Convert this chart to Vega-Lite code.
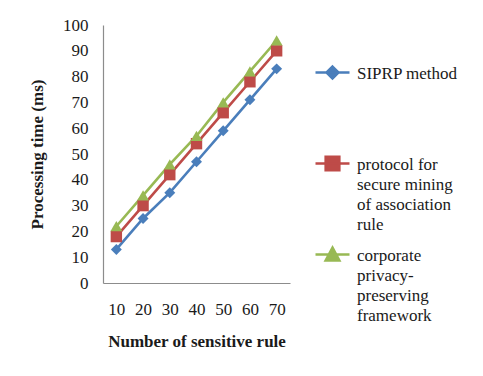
{
  "$schema": "https://vega.github.io/schema/vega-lite/v6.json",
  "width": 187,
  "height": 258,
  "autosize": {"type": "none"},
  "padding": {"left": 103, "top": 25, "right": 193, "bottom": 93},
  "background": "white",
  "config": {
    "font": "Liberation Serif",
    "view": {"stroke": null},
    "style": {"guide-label": {"font": "Liberation Serif"}},
    "axis": {
      "domainColor": "#8c8c8c",
      "domainWidth": 1.2,
      "ticks": false,
      "grid": false,
      "labelFont": "Liberation Serif",
      "labelFontSize": 17,
      "labelColor": "#1a1a1a",
      "titleFont": "Liberation Serif",
      "titleFontSize": 17,
      "titleFontWeight": "bold",
      "titleColor": "#1a1a1a"
    },
    "legend": {"labelFont": "Liberation Serif"}
  },
  "data": {
    "values": [
      {"rules": 10, "time": 13, "series": "SIPRP method"},
      {"rules": 20, "time": 25, "series": "SIPRP method"},
      {"rules": 30, "time": 35, "series": "SIPRP method"},
      {"rules": 40, "time": 47, "series": "SIPRP method"},
      {"rules": 50, "time": 59, "series": "SIPRP method"},
      {"rules": 60, "time": 71, "series": "SIPRP method"},
      {"rules": 70, "time": 83, "series": "SIPRP method"},
      {"rules": 10, "time": 18, "series": "protocol for secure mining of association rule"},
      {"rules": 20, "time": 30, "series": "protocol for secure mining of association rule"},
      {"rules": 30, "time": 42, "series": "protocol for secure mining of association rule"},
      {"rules": 40, "time": 54, "series": "protocol for secure mining of association rule"},
      {"rules": 50, "time": 66, "series": "protocol for secure mining of association rule"},
      {"rules": 60, "time": 78, "series": "protocol for secure mining of association rule"},
      {"rules": 70, "time": 90, "series": "protocol for secure mining of association rule"},
      {"rules": 10, "time": 22, "series": "corporate privacy-preserving framework"},
      {"rules": 20, "time": 34, "series": "corporate privacy-preserving framework"},
      {"rules": 30, "time": 46, "series": "corporate privacy-preserving framework"},
      {"rules": 40, "time": 57, "series": "corporate privacy-preserving framework"},
      {"rules": 50, "time": 70, "series": "corporate privacy-preserving framework"},
      {"rules": 60, "time": 82, "series": "corporate privacy-preserving framework"},
      {"rules": 70, "time": 94, "series": "corporate privacy-preserving framework"}
    ]
  },
  "encoding": {
    "x": {
      "field": "rules",
      "type": "ordinal",
      "scale": {"type": "point", "padding": 0.5},
      "axis": {"title": "Number of sensitive rule", "labelAngle": 0, "labelPadding": 18, "titlePadding": 16}
    },
    "y": {
      "field": "time",
      "type": "quantitative",
      "scale": {"domain": [0, 100], "nice": false},
      "axis": {"title": "Processing time (ms)", "values": [0, 10, 20, 30, 40, 50, 60, 70, 80, 90, 100], "labelPadding": 15, "titlePadding": 16}
    },
    "color": {
      "field": "series",
      "type": "nominal",
      "scale": {
        "domain": ["SIPRP method", "protocol for secure mining of association rule", "corporate privacy-preserving framework"],
        "range": ["#4a7ebb", "#be4b48", "#98b954"]
      },
      "legend": {
        "title": null,
        "orient": "none",
        "legendX": 211,
        "legendY": 29,
        "padding": 0,
        "gridAlign": "all",
        "rowPadding": 3,
        "symbolSize": 1156,
        "symbolStrokeWidth": 2.6,
        "labelFont": "Liberation Serif",
        "labelFontSize": 17,
        "labelColor": "#1a1a1a",
        "labelLimit": 200,
        "labelOffset": 6,
        "labelBaseline": "alphabetic",
        "labelExpr": "datum.label == 'protocol for secure mining of association rule' ? ['protocol for', 'secure mining', 'of association', 'rule'] : datum.label == 'corporate privacy-preserving framework' ? ['corporate', 'privacy-', 'preserving', 'framework'] : datum.label",
        "encode": {
          "labels": {
            "enter": {"font": {"value": "Liberation Serif"}},
            "update": {"dy": {"value": 6}, "lineHeight": {"value": 20}, "font": {"value": "Liberation Serif"}}
          },
          "symbols": {
            "update": {
              "shape": {"signal": "datum.value == 'SIPRP method' ? 'M-1,0H1M0,-0.35L0.35,0L0,0.35L-0.35,0Z' : datum.value == 'protocol for secure mining of association rule' ? 'M-1,0H1M-0.4,-0.4H0.4V0.4H-0.4Z' : 'M-1,0H1M0,-0.4L0.4,0.35H-0.4Z'"},
              "fill": {"scale": "color", "field": "value"},
              "stroke": {"scale": "color", "field": "value"},
              "strokeWidth": {"value": 2.6},
              "opacity": {"value": 1}
            }
          }
        }
      }
    }
  },
  "layer": [
    {
      "mark": {"type": "line", "strokeWidth": 2.6}
    },
    {
      "transform": [{"filter": "datum.series == 'SIPRP method'"}],
      "mark": {"type": "point", "filled": true, "opacity": 1, "size": 120, "shape": "diamond"}
    },
    {
      "transform": [{"filter": "datum.series == 'protocol for secure mining of association rule'"}],
      "mark": {"type": "point", "filled": true, "opacity": 1, "size": 130, "shape": "square"}
    },
    {
      "transform": [{"filter": "datum.series == 'corporate privacy-preserving framework'"}],
      "mark": {"type": "point", "filled": true, "opacity": 1, "size": 140, "shape": "triangle-up"}
    }
  ]
}
